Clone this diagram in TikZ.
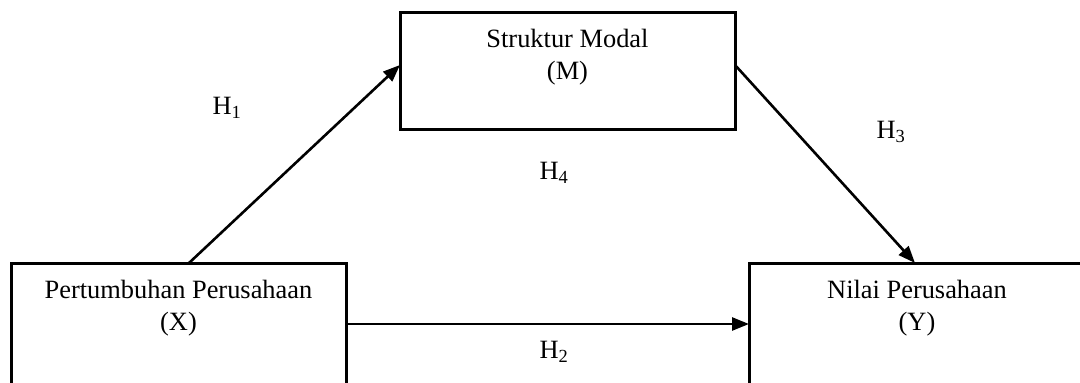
\documentclass[tikz,border=0pt]{standalone}
\usepackage{fontspec}
\setmainfont{Liberation Serif}
\usetikzlibrary{arrows.meta,calc}
\begin{document}
\begin{tikzpicture}[x=1pt,y=-1pt,
  box/.style={draw, line width=3pt, rectangle, minimum width=335pt, minimum height=117pt, inner sep=0pt, outer sep=0pt},
  txt/.style={font=\fontsize{26.4}{32}\selectfont, align=center, inner sep=0pt, anchor=north},
  hlab/.style={font=\fontsize{26.4}{32}\selectfont, inner sep=0pt},
  conn/.style={line width=2.6pt, -{Triangle[length=17pt,width=13pt]}}]
\useasboundingbox (0,0) rectangle (1080,383);
\clip (0,0) rectangle (1080,383);
\fill[white] (0,0) rectangle (1080,383);
\node[box] (m) at (567.5,70.5) {};
\node[box, minimum height=125pt] (x) at (178.5,325.5) {};
\node[box, minimum width=336pt, minimum height=125pt] (y) at (917,325.5) {};
\node[txt] (mt) at ($(m.north)+(0,17)$) {Struktur Modal\\(M)};
\node[txt] (xt) at ($(x.north)+(0,17)$) {Pertumbuhan Perusahaan\\(X)};
\node[txt] (yt) at ($(y.north)+(0,17)$) {Nilai Perusahaan\\(Y)};
\coordinate (x1) at ($(x.north west)+(178,0)$);
\coordinate (m1) at ($(m.north west)+(0,53)$);
\coordinate (m2) at ($(m.north east)+(0,53)$);
\coordinate (y1) at ($(y.north west)+(166,0)$);
\coordinate (x2) at ($(x.north east)+(0,61)$);
\coordinate (y2) at ($(y.north west)+(0,61)$);
\draw[conn] (x1) -- (m1);
\draw[conn] (m2) -- (y1);
\draw[conn] (x2) -- (y2);
\node[hlab] (h1) at (227,108) {H\textsubscript{1}};
\node[hlab] (h3) at (891,132) {H\textsubscript{3}};
\node[hlab] (h4) at (554,173) {H\textsubscript{4}};
\node[hlab] (h2) at (554,352) {H\textsubscript{2}};
\end{tikzpicture}
\end{document}
